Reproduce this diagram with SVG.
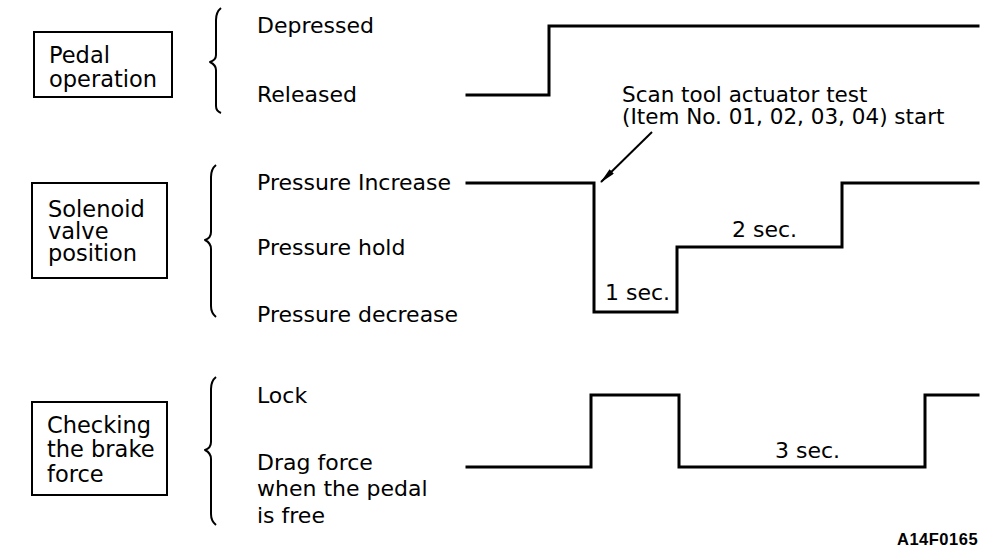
<svg xmlns="http://www.w3.org/2000/svg" width="992" height="552" viewBox="0 0 992 552">
<defs>
<style>
text{font-family:"DejaVu Sans","Liberation Sans",sans-serif;font-size:22px;fill:#000}
.lbl{font-size:22.5px}
.ann{font-size:21.5px}
.box{fill:none;stroke:#000;stroke-width:2}
.brace{fill:none;stroke:#000;stroke-width:2;stroke-linejoin:round}
.wave{fill:none;stroke:#000;stroke-width:3;stroke-linejoin:miter;stroke-linecap:square}
.code{font-family:"Liberation Sans",Arial,sans-serif;font-weight:bold;font-size:16.5px;letter-spacing:0.5px}
</style>
<marker id="ah" viewBox="0 0 16 6" refX="15" refY="3" markerWidth="16" markerHeight="6" markerUnits="userSpaceOnUse" orient="auto">
<path d="M0,0 L16,3 L0,6 z" fill="#000"/>
</marker>
</defs>
<rect width="992" height="552" fill="#fff"/>

<g id="pedal-box">
<rect class="box" x="34" y="32" width="138" height="65"/>
<text class="lbl" x="49" y="63">Pedal</text>
<text class="lbl" x="49" y="87">operation</text>
</g>
<g id="pedal-brace">
<path class="brace" d="M221,8 Q216,12 216,20 L216,55 Q216,60 210,62 Q216,65 216,70 L216,106 Q216,111 221,113"/>
</g>
<g id="pedal-states">
<text x="257" y="33">Depressed</text>
<text x="257" y="102">Released</text>
</g>
<g id="pedal-wave">
<polyline class="wave" points="467,95 549,95 549,26 978,26"/>
</g>

<g id="solenoid-box">
<rect class="box" x="32" y="183" width="135" height="95"/>
<text class="lbl" x="48" y="217">Solenoid</text>
<text class="lbl" x="48" y="239">valve</text>
<text class="lbl" x="48" y="261">position</text>
</g>
<g id="solenoid-brace">
<path class="brace" d="M216,165 Q211,169 211,177 L211,232 Q211,238 205,240 Q211,243 211,249 L211,306 Q211,313 216,317"/>
</g>
<g id="solenoid-states">
<text x="257" y="190">Pressure Increase</text>
<text x="257" y="255">Pressure hold</text>
<text x="257" y="322">Pressure decrease</text>
</g>
<g id="solenoid-wave">
<polyline class="wave" points="467,183 594,183 594,312 677,312 677,247 842,247 842,183 978,183"/>
<text x="605" y="300">1 sec.</text>
<text x="732" y="237">2 sec.</text>
</g>

<g id="brake-box">
<rect class="box" x="32" y="402" width="135" height="93"/>
<text class="lbl" x="47" y="433">Checking</text>
<text class="lbl" x="47" y="457">the brake</text>
<text class="lbl" x="47" y="482">force</text>
</g>
<g id="brake-brace">
<path class="brace" d="M216,377 Q211,381 211,389 L211,442 Q211,448 205,450 Q211,453 211,459 L211,514 Q211,521 216,525"/>
</g>
<g id="brake-states">
<text x="257" y="403">Lock</text>
<text x="257" y="470">Drag force</text>
<text x="257" y="496">when the pedal</text>
<text x="257" y="523">is free</text>
</g>
<g id="brake-wave">
<polyline class="wave" points="467,467 591,467 591,395 679,395 679,467 925,467 925,395 978,395"/>
<text x="775" y="458">3 sec.</text>
</g>

<g id="annotation">
<text class="ann" x="622" y="102">Scan tool actuator test</text>
<text class="ann" x="622" y="124">(Item No. 01, 02, 03, 04) start</text>
</g>

<g id="connectors">
<line x1="652" y1="132" x2="601" y2="182" stroke="#000" stroke-width="2" marker-end="url(#ah)"/>
</g>

<text class="code" x="897" y="545">A14F0165</text>
</svg>
